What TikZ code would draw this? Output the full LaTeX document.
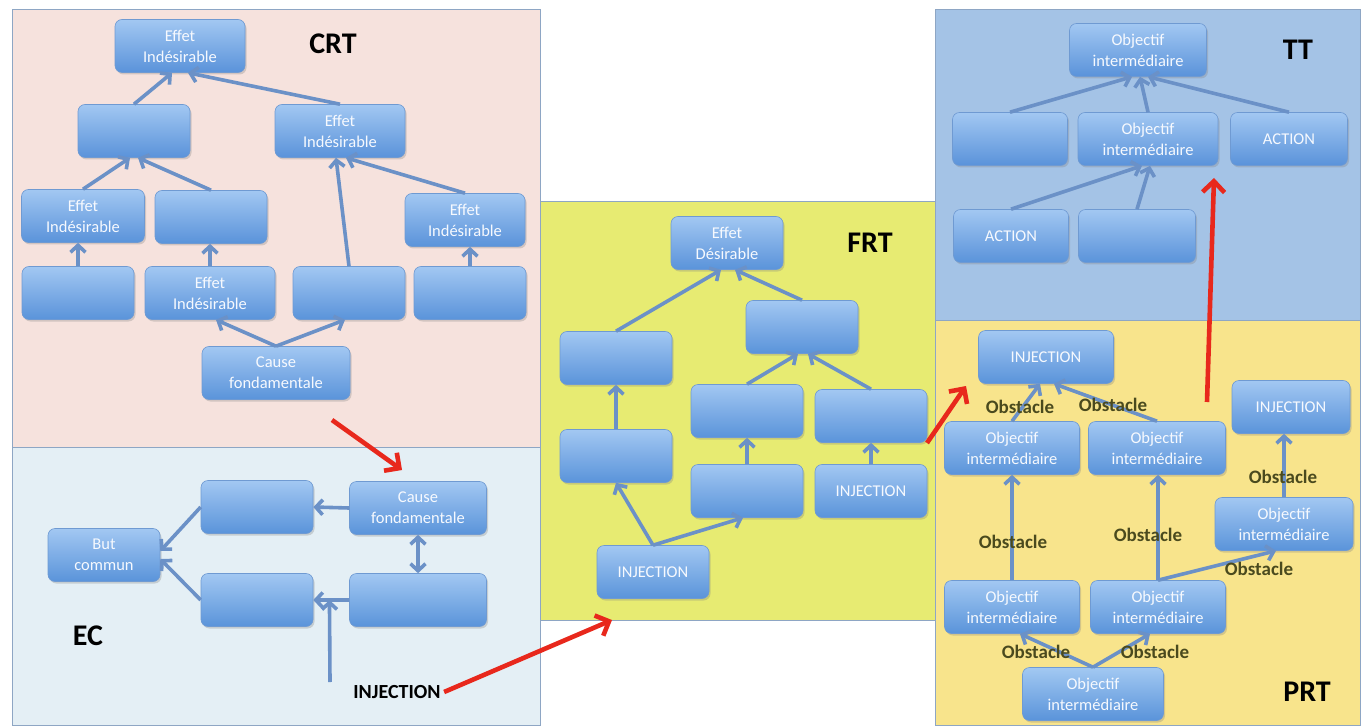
\documentclass[tikz,border=0pt]{standalone}
\usepackage{fontspec}
\setmainfont{Carlito}
\usetikzlibrary{arrows.meta,shadows}

\definecolor{crtbg}{HTML}{F6E2DD}
\definecolor{ecbg}{HTML}{E4EFF5}
\definecolor{frtbg}{HTML}{E7EB72}
\definecolor{ttbg}{HTML}{A4C3E6}
\definecolor{prtbg}{HTML}{F8E48C}
\definecolor{panelline}{HTML}{8EA6C4}
\definecolor{boxtop}{HTML}{A2C8F2}
\definecolor{boxbot}{HTML}{5A93DA}
\definecolor{boxline}{HTML}{6F9AD2}
\definecolor{linkcol}{HTML}{6B91C7}
\definecolor{jumpcol}{HTML}{E8281C}
\definecolor{obstcol}{HTML}{4A4A1E}

\begin{document}
\begin{tikzpicture}[x=1pt,y=-1pt,
    panel/.style={draw=panelline,line width=1pt},
    box/.style={draw=boxline,line width=0.6pt,rounded corners=7pt,
      top color=boxtop,bottom color=boxbot,
      minimum width=112pt,minimum height=53pt,inner sep=1pt,
      align=center,text=white!90!boxtop,font=\fontsize{16.5}{21}\selectfont,
      drop shadow={shadow xshift=1.5pt,shadow yshift=-2pt,opacity=0.3}},
    link/.style={draw=linkcol,line width=3.6pt,-{Straight Barb[length=7pt,width=15pt]}},
    both/.style={link,{Straight Barb[length=7pt,width=15pt]}-{Straight Barb[length=7pt,width=15pt]}},
    jump/.style={draw=jumpcol,line width=4.6pt,-{Straight Barb[length=11pt,width=22pt]}},
    title/.style={font=\fontsize{30}{32}\selectfont\bfseries,text=black},
    inj/.style={font=\fontsize{20}{22}\selectfont\bfseries,text=black},
    obst/.style={font=\fontsize{19}{21}\selectfont\bfseries,text=obstcol,inner sep=0pt}]
  \useasboundingbox (0,0) rectangle (1367,727);
  \fill[white] (0,0) rectangle (1367,727);

  % panels
  \draw[panel,fill=crtbg] (12,10)   rectangle (540,447);
  \draw[panel,fill=ecbg]  (12,447)  rectangle (540,725);
  \draw[panel,fill=frtbg] (540,202) rectangle (935,620);
  \draw[panel,fill=ttbg]  (935,10)  rectangle (1360,320);
  \draw[panel,fill=prtbg] (935,320) rectangle (1360,725);

  \node[title] (crtlab) at (333,44)   {CRT};
  \node[title] (eclab)  at (88,636)   {EC};
  \node[title] (frtlab) at (870,243)  {FRT};
  \node[title] (ttlab)  at (1298,50)  {TT};
  \node[title] (prtlab) at (1307,692) {PRT};

  % CRT
  \node[box,minimum width=130pt] (e1) at (180,46)  {Effet\\Indésirable};
  \node[box]                     (b1) at (134,131) {};
  \node[box,minimum width=130pt] (e2) at (340,131) {Effet\\Indésirable};
  \node[box,minimum width=123pt] (e3) at (83,216)  {Effet\\Indésirable};
  \node[box]                     (b2) at (211,217) {};
  \node[box,minimum width=120pt] (e4) at (465,220) {Effet\\Indésirable};
  \node[box]                     (b3) at (78,293)  {};
  \node[box,minimum width=130pt] (e5) at (210,293) {Effet\\Indésirable};
  \node[box]                     (b4) at (349,293) {};
  \node[box]                     (b5) at (470,293) {};
  \node[box,minimum width=148pt] (cf) at (276,373) {Cause\\fondamentale};

  \draw[link] (b1.north) -- ([xshift=-8pt]e1.south);
  \draw[link] (e2.north) -- ([xshift=8pt]e1.south);
  \draw[link] (e3.north) -- ([xshift=-4pt]b1.south);
  \draw[link] (b2.north) -- ([xshift=4pt]b1.south);
  \draw[link] (b3.north) -- (b3.north |- e3.south);
  \draw[link] (e5.north) -- (e5.north |- b2.south);
  \draw[link] (b4.north) -- ([xshift=-4pt]e2.south);
  \draw[link] (e4.north) -- ([xshift=6pt]e2.south);
  \draw[link] (b5.north) -- (b5.north |- e4.south);
  \draw[link] (cf.north) -- ([xshift=6pt]e5.south);
  \draw[link] (cf.north) -- ([xshift=-4pt]b4.south);

  % EC
  \node[box]                     (but) at (104,555) {But\\commun};
  \node[box]                     (ea)  at (257,507) {};
  \node[box,minimum width=137pt] (cf2) at (418,508) {Cause\\fondamentale};
  \node[box]                     (eb)  at (257,600) {};
  \node[box,minimum width=137pt] (ed)  at (418,600) {};

  \draw[link] (cf2.west) -- (ea.east);
  \draw[link] (ea.west) -- ([yshift=4pt]but.east);
  \draw[link] (eb.west) -- ([yshift=-4pt]but.east);
  \draw[link] (ed.west) -- coordinate[pos=0.55] (injpt) (eb.east);
  \draw[both] (cf2.south) -- (ed.north);
  \coordinate (injfoot) at (330,682);
  \draw[link] (injfoot) -- (injpt);
  \node[inj] (injec) at (397,692) {INJECTION};

  % FRT
  \node[box] (fe)   at (727,243) {Effet\\Désirable};
  \node[box] (f1)   at (616,358) {};
  \node[box] (f2)   at (802,327) {};
  \node[box] (f3)   at (747,411) {};
  \node[box] (f4)   at (871,416) {};
  \node[box] (f5)   at (616,456) {};
  \node[box] (f6)   at (747,491) {};
  \node[box] (inj1) at (871,491) {INJECTION};
  \node[box] (inj0) at (653,572) {INJECTION};

  \draw[link] (f1.north) -- ([xshift=-6pt]fe.south);
  \draw[link] (f2.north) -- ([xshift=8pt]fe.south);
  \draw[link] (f3.north) -- ([xshift=-4pt]f2.south);
  \draw[link] (f4.north) -- ([xshift=6pt]f2.south);
  \draw[link] (f5.north) -- (f1.south);
  \draw[link] (f6.north) -- (f3.south);
  \draw[link] (inj1.north) -- (f4.south);
  \draw[link] (inj0.north) -- (f5.south);
  \draw[link] (inj0.north) -- ([xshift=-4pt]f6.south);

  % TT
  \node[box,minimum width=137pt] (t1) at (1138,50)  {Objectif\\intermédiaire};
  \node[box,minimum width=115pt] (t2) at (1010,139) {};
  \node[box,minimum width=140pt] (t3) at (1148,139) {Objectif\\intermédiaire};
  \node[box,minimum width=117pt] (t4) at (1289,139) {ACTION};
  \node[box,minimum width=115pt] (t5) at (1011,236) {ACTION};
  \node[box,minimum width=117pt] (t6) at (1137,236) {};

  \draw[link] (t2.north) -- ([xshift=-6pt]t1.south);
  \draw[link] (t3.north) -- ([xshift=2pt]t1.south);
  \draw[link] (t4.north) -- ([xshift=10pt]t1.south);
  \draw[link] (t5.north) -- ([xshift=-6pt]t3.south);
  \draw[link] (t6.north) -- ([xshift=2pt]t3.south);

  % PRT
  \node[box,minimum width=135pt] (p1) at (1046,357) {INJECTION};
  \node[box,minimum width=118pt] (p2) at (1291,407) {INJECTION};
  \node[box,minimum width=135pt] (p3) at (1012,448) {Objectif\\intermédiaire};
  \node[box,minimum width=137pt] (p4) at (1157,448) {Objectif\\intermédiaire};
  \node[box,minimum width=138pt] (p5) at (1284,524) {Objectif\\intermédiaire};
  \node[box,minimum width=135pt] (p6) at (1012,607) {Objectif\\intermédiaire};
  \node[box,minimum width=135pt] (p7) at (1158,607) {Objectif\\intermédiaire};
  \node[box,minimum width=141pt] (p8) at (1093,694) {Objectif\\intermédiaire};

  \draw[link] (p3.north) -- ([xshift=-6pt]p1.south);
  \draw[link] (p4.north) -- ([xshift=8pt]p1.south);
  \draw[link] (p6.north) -- (p6.north |- p3.south);
  \draw[link] (p7.north) -- (p7.north |- p4.south);
  \draw[link] (p5.north) -- (p5.north |- p2.south);
  \draw[link] (p7.north) -- ([xshift=-8pt]p5.south);
  \draw[link] (p8.north) -- ([xshift=8pt]p6.south);
  \draw[link] (p8.north) -- ([xshift=-8pt]p7.south);

  \node[obst] (o1) at (1020,407) {Obstacle};
  \node[obst] (o2) at (1113,405) {Obstacle};
  \node[obst] (o3) at (1283,477) {Obstacle};
  \node[obst] (o4) at (1013,542) {Obstacle};
  \node[obst] (o5) at (1148,535) {Obstacle};
  \node[obst] (o6) at (1259,569) {Obstacle};
  \node[obst] (o7) at (1036,652) {Obstacle};
  \node[obst] (o8) at (1155,652) {Obstacle};

  % red arrows between the trees
  \coordinate (crtout) at (332,420);
  \coordinate (ecin)   at (402,470);
  \coordinate (frtin)  at (612,620);
  \coordinate (frtout) at (927,443);
  \coordinate (prtin)  at (966,386);
  \coordinate (prtout) at (1207,402);
  \coordinate (ttin)   at (1214,178);
  \draw[jump] (crtout) -- (ecin);
  \draw[jump] (injec.east) -- (frtin);
  \draw[jump] (frtout) -- (prtin);
  \draw[jump] (prtout) -- (ttin);
\end{tikzpicture}
\end{document}
